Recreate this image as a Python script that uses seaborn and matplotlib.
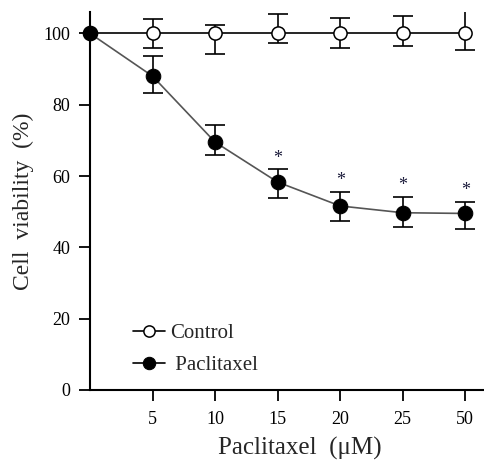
import matplotlib
matplotlib.use("Agg")
import matplotlib.pyplot as plt
import seaborn as sns
import pandas as pd

# concentrations (categorical positions on the x axis)
conc_labels = ["5", "10", "15", "20", "25", "50"]
conc_pos = [0, 1, 2, 3, 4, 5, 6]

control_mean = [100, 100, 100, 100, 100, 100, 100]
control_err_up = [0, 3.9, 2.4, 5.5, 4.2, 4.8, 6.5]
control_err_dn = [0, 4.2, 5.9, 2.7, 4.2, 3.6, 4.6]

pacl_mean = [100, 88.0, 69.5, 58.3, 51.6, 49.7, 49.5]
pacl_err_up = [0, 5.8, 4.7, 3.8, 4.0, 4.4, 3.2]
pacl_err_dn = [0, 4.7, 3.5, 4.6, 4.3, 4.0, 4.5]

star_pos = [3, 4, 5, 6]
star_y = [65.0, 58.8, 57.4, 56.0]

sns.set_theme(style="ticks")
plt.rcParams["font.family"] = ["Liberation Serif", "DejaVu Serif"]

df = pd.DataFrame({
    "pos": conc_pos * 2,
    "viability": control_mean + pacl_mean,
    "group": ["Control"] * 7 + [" Paclitaxel"] * 7,
})

fig = plt.figure(figsize=(4.84, 4.62), dpi=100)
ax = fig.add_axes([0.186, 0.156, 0.814, 0.818])

ctrl = df[df.group == "Control"]
pac = df[df.group == " Paclitaxel"]

# error bars first
ax.errorbar(ctrl.pos[1:], ctrl.viability[1:],
            yerr=[control_err_dn[1:], control_err_up[1:]],
            fmt="none", ecolor="black", elinewidth=1.2, capsize=7, capthick=1.2, zorder=2)
ax.errorbar(pac.pos[1:], pac.viability[1:],
            yerr=[pacl_err_dn[1:], pacl_err_up[1:]],
            fmt="none", ecolor="black", elinewidth=1.2, capsize=7, capthick=1.2, zorder=2)

sns.lineplot(data=ctrl, x="pos", y="viability", ax=ax, color="black", lw=1.2,
             marker="o", markersize=9.5, markerfacecolor="white", markeredgecolor="black",
             markeredgewidth=1.1, label="Control", clip_on=False, zorder=3)
sns.lineplot(data=pac, x="pos", y="viability", ax=ax, color="#555555", lw=1.2,
             marker="o", markersize=10.5, markerfacecolor="black", markeredgecolor="black",
             label=" Paclitaxel", clip_on=False, zorder=4)

for xp, yp in zip(star_pos, star_y):
    ax.text(xp, yp, "*", ha="center", va="center", fontsize=13, color="#1a1a3a")

ax.set_xlim(0, 6.3)
ax.set_ylim(0, 106)
ax.set_xticks(conc_pos[1:])
ax.set_xticklabels(conc_labels)
ax.set_yticks([0, 20, 40, 60, 80, 100])
ax.tick_params(axis="both", direction="out", length=8, width=1.3, labelsize=13, colors="black")
ax.tick_params(axis="x", pad=7)
ax.tick_params(axis="y", pad=6)

for s in ["top", "right"]:
    ax.spines[s].set_visible(False)
for s in ["left", "bottom"]:
    ax.spines[s].set_linewidth(1.5)
    ax.spines[s].set_color("black")

ax.set_xlabel("Paclitaxel  (\u03bcM)", fontsize=18)
ax.xaxis.set_label_coords(0.533, -0.125)
ax.set_ylabel("Cell  viability  (%)", fontsize=17, labelpad=7)

leg = ax.legend(loc="lower left", bbox_to_anchor=(0.062, -0.01), frameon=False,
                fontsize=15, handlelength=1.55, handletextpad=0.2, labelspacing=0.6,
                markerscale=0.85)
for line in leg.get_lines():
    line.set_color("black")

fig.savefig("out.png", dpi=100)
